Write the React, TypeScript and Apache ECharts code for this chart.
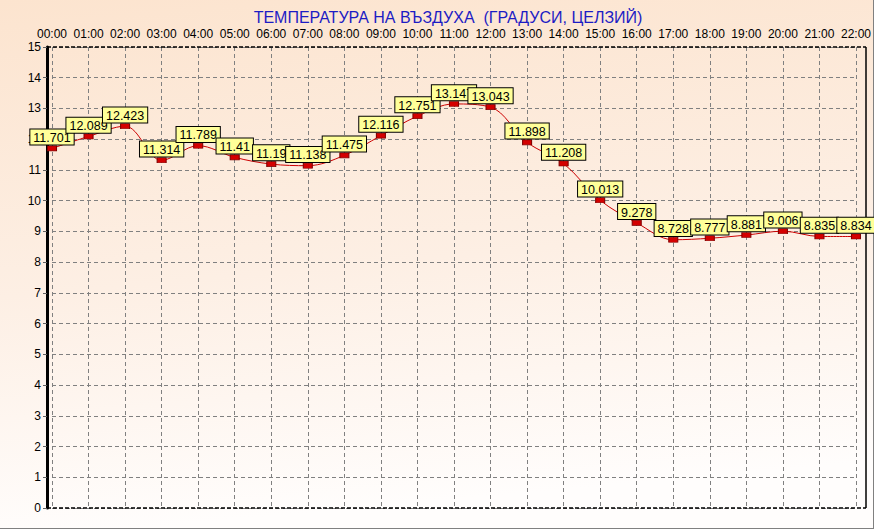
import React, { useEffect, useRef } from "react";
import * as echarts from "echarts";

const hours = [
  "00:00", "01:00", "02:00", "03:00", "04:00", "05:00", "06:00", "07:00",
  "08:00", "09:00", "10:00", "11:00", "12:00", "13:00", "14:00", "15:00",
  "16:00", "17:00", "18:00", "19:00", "20:00", "21:00", "22:00",
];
const temperature = [
  11.701, 12.089, 12.423, 11.314, 11.789, 11.41, 11.19, 11.138,
  11.475, 12.116, 12.751, 13.147, 13.043, 11.898, 11.208, 10.013,
  9.278, 8.728, 8.777, 8.881, 9.006, 8.835, 8.834,
];
const titleText = "ТЕМПЕРАТУРА НА ВЪЗДУХА  (ГРАДУСИ, ЦЕЛЗИЙ)";
const yMin = 0;
const yMax = 15;

const FONT = "'Liberation Sans', Arial, sans-serif";

export default function App() {
  const ref = useRef<HTMLDivElement>(null);
  useEffect(() => {
    if (!ref.current) return;
    const chart = echarts.init(ref.current, null, { renderer: "svg" });
    chart.setOption({
      animation: false,
      backgroundColor: {
        type: "linear",
        x: 0,
        y: 0,
        x2: 0.15,
        y2: 1,
        colorStops: [
          { offset: 0, color: "#fce4cf" },
          { offset: 0.55, color: "#fdefe4" },
          { offset: 1, color: "#fffdfc" },
        ],
      },
      title: {
        text: titleText,
        left: 443,
        top: 4,
        textAlign: "center",
        textStyle: {
          color: "#1c1cc4",
          fontSize: 16,
          fontWeight: "normal",
          fontFamily: FONT,
        },
      },
      grid: { left: 52, right: 14, top: 47, bottom: 21 },
      xAxis: {
        type: "category",
        position: "top",
        data: hours,
        boundaryGap: false,
        axisLine: { show: false },
        axisTick: { show: false },
        axisLabel: {
          color: "#000",
          fontSize: 12,
          fontFamily: FONT,
          margin: 7,
          interval: 0,
        },
        splitLine: {
          show: true,
          lineStyle: { color: "#808080", width: 1, type: [4, 3] },
        },
      },
      yAxis: {
        type: "value",
        min: yMin,
        max: yMax,
        interval: 1,
        offset: 5,
        axisLine: { show: true, lineStyle: { color: "#000", width: 3 } },
        axisTick: { show: true, length: 4, lineStyle: { color: "#606060", width: 1 } },
        axisLabel: {
          color: "#000",
          fontSize: 12,
          fontFamily: FONT,
          margin: 6,
        },
        splitLine: {
          show: true,
          lineStyle: { color: "#808080", width: 1, type: [4, 3] },
        },
      },
      graphic: [
        { type: "line", shape: { x1: 47, y1: 47, x2: 866, y2: 47 }, style: { stroke: "#000", lineWidth: 1.5, lineDash: [4, 2] }, z: 5 },
        { type: "line", shape: { x1: 47, y1: 508, x2: 866, y2: 508 }, style: { stroke: "#000", lineWidth: 1.5, lineDash: [4, 2] }, z: 5 },
        { type: "line", shape: { x1: 866, y1: 47, x2: 866, y2: 508 }, style: { stroke: "#000", lineWidth: 1.5 }, z: 5 },
        { type: "line", shape: { x1: 0, y1: 528.5, x2: 874, y2: 528.5 }, style: { stroke: "#808080", lineWidth: 1 }, z: 5 },
        { type: "line", shape: { x1: 873.5, y1: 0, x2: 873.5, y2: 529 }, style: { stroke: "#808080", lineWidth: 1 }, z: 5 },
      ],
      series: [
        {
          type: "line",
          data: temperature,
          smooth: 0.35,
          symbol: "rect",
          symbolSize: [9, 5],
          lineStyle: { color: "#cc0000", width: 1 },
          itemStyle: { color: "#d40000", borderColor: "#800000", borderWidth: 0.8 },
          z: 10,
          label: {
            show: true,
            position: "top",
            distance: 1,
            color: "#000",
            fontSize: 12.5,
            fontFamily: FONT,
            backgroundColor: "#ffff99",
            borderColor: "#000",
            borderWidth: 1,
            padding: [2, 3, 0, 3],
            formatter: (p: any) => String(p.value),
          },
        },
      ],
    });
    return () => chart.dispose();
  }, []);
  return (
    <div
      ref={ref}
      style={{ position: "fixed", left: 0, top: 0, width: 874, height: 529 }}
    />
  );
}
